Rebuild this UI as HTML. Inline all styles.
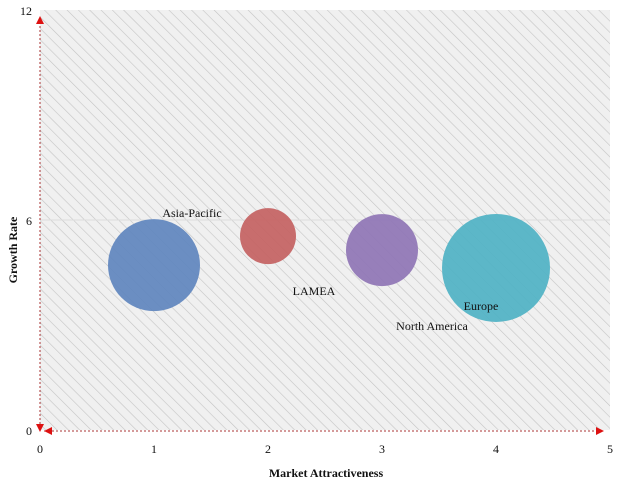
<!DOCTYPE html>
<html><head><meta charset="utf-8"><style>
body{margin:0;background:#fff}
svg text{font-family:"Liberation Serif",serif;fill:#111}
</style></head><body>
<svg id="chart" width="619" height="486" xmlns="http://www.w3.org/2000/svg">
<defs>
<pattern id="hatch" width="8" height="8" patternUnits="userSpaceOnUse" patternTransform="rotate(-45)">
<rect width="8" height="8" fill="#f0f0f0"/>
<line x1="0" y1="0" x2="0" y2="8" stroke="#c4c4c4" stroke-width="1.2"/>
</pattern>
</defs>
<rect x="40" y="10" width="570" height="420" fill="url(#hatch)"/>
<g id="grid"></g>
<g id="bubbles"></g>
<g id="axes"></g>
<text x="326" y="477" text-anchor="middle" font-size="12" font-weight="bold">Market Attractiveness</text>
<text transform="translate(17,250) rotate(-90)" text-anchor="middle" font-size="12" font-weight="bold">Growth Rate</text>
</svg>
<script>
const categories=["Asia-Pacific","LAMEA","North America","Europe"];
const xValues=[1,2,3,4];
const yValues=[4.71,5.54,5.14,4.63];
const sizes=[46,28,36,54];
const xTicks=[0,1,2,3,4,5];
const yTicks=[0,6,12];
const colors=["#5f86be","#c46262","#8f75b5","#4fb2c4"];
const labelDx=[38,46,50,-15];
const labelDy=[-48,59,80,42];
const X=v=>40+v*114, Y=v=>430-v*35;
const NS="http://www.w3.org/2000/svg";
function el(t,a,p){const e=document.createElementNS(NS,t);for(const k in a)e.setAttribute(k,a[k]);p.appendChild(e);return e;}
const grid=document.getElementById('grid'),axes=document.getElementById('axes'),bub=document.getElementById('bubbles');
yTicks.forEach(t=>{
 if(t>0&&t<12){const g=el('line',{x1:40,x2:610,y1:Y(t),y2:Y(t),stroke:'#ddd','stroke-width':1},grid);}
 const tx=el('text',{x:32,y:Y(t)+5,'text-anchor':'end','font-size':12},axes);tx.textContent=t;
 
});
xTicks.forEach(t=>{
 const tx=el('text',{x:X(t),y:453,'text-anchor':'middle','font-size':12},axes);tx.textContent=t;
 
});
const ya=el('line',{x1:40,x2:40,y1:18,y2:430,stroke:'#a33','stroke-width':1,'stroke-dasharray':'2,2'},axes);

const xa=el('line',{x1:44,x2:604,y1:431,y2:431,stroke:'#a33','stroke-width':1,'stroke-dasharray':'2,2'},axes);

[[36,24,44,24,40,16],[36,424,44,424,40,432],[52,427,52,435,44,431],[596,427,596,435,604,431]].forEach(p=>{
 const a=el('polygon',{points:`${p[0]},${p[1]} ${p[2]},${p[3]} ${p[4]},${p[5]}`,fill:'#d11'},axes);
 
});
categories.forEach((c,i)=>{
 const cx=X(xValues[i]),cy=Y(yValues[i]);
 const ci=el('circle',{cx:cx,cy:cy,r:sizes[i],fill:colors[i],opacity:0.92},bub);
 
 
 const t=el('text',{x:cx+labelDx[i],y:cy+labelDy[i],'text-anchor':'middle','font-size':12},bub);t.textContent=c;
 
});
</script>
</body></html>
